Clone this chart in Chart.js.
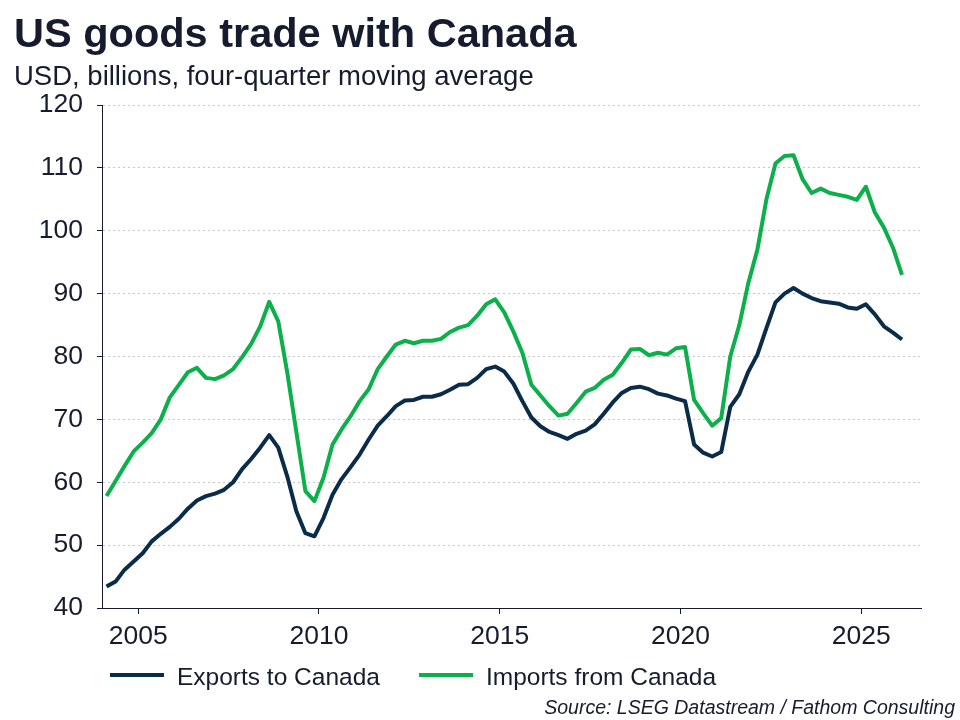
<!DOCTYPE html>
<html>
<head>
<meta charset="utf-8">
<title>US goods trade with Canada</title>
<script src="https://cdn.jsdelivr.net/npm/chart.js@4.4.1/dist/chart.umd.min.js"></script>
<style>
  body { margin: 0; background: #fff; }
  #wrap { position: relative; width: 960px; height: 720px; font-family: "Liberation Sans", Arial, sans-serif; color: #161b2e; }
  #chart { position: absolute; left: 0; top: 0; }
  .title { position: absolute; left: 14px; top: 12px; font-size: 41.5px; line-height: 41px; font-weight: bold; white-space: nowrap; }
  .sub { position: absolute; left: 14px; top: 62px; font-size: 27.5px; line-height: 28px; white-space: nowrap; }
  #legend { position: absolute; left: 110px; top: 665px; display: flex; align-items: center; font-size: 24.5px; line-height: 24px; }
  #legend .item { display: flex; align-items: center; margin-right: 39px; }
  #legend .swatch { width: 54px; height: 4px; margin-right: 13px; position: relative; top: -2px; }
  .source { position: absolute; right: 5px; top: 697px; font-size: 19.5px; line-height: 20px; font-style: italic; white-space: nowrap; }
</style>
</head>
<body>
<div id="wrap">
  <canvas id="chart" width="960" height="720"></canvas>
  <div class="title">US goods trade with Canada</div>
  <div class="sub">USD, billions, four-quarter moving average</div>
  <div id="legend"></div>
  <div class="source">Source: LSEG Datastream / Fathom Consulting</div>
</div>
<script>
// quarters 2004 Q1 .. 2026 Q1
let quarters = []
for (let yr = 2004; yr <= 2026; yr++) {
  for (let q = 1; q <= 4; q++) quarters.push(yr + ' Q' + q)
}
quarters = quarters.slice(0, quarters.indexOf('2026 Q1') + 1)

// USD bn, four-quarter moving average
const exportsToCanada = [
  43.4, 44.2, 46.1, 47.4,   48.7, 50.6, 51.8, 52.9,   54.2, 55.8, 57.1, 57.8,
  58.2, 58.8, 60.0, 62.1,   63.7, 65.5, 67.5, 65.5,   60.9, 55.4, 51.9, 51.4,
  54.3, 58.0, 60.5, 62.4,   64.4, 66.8, 69.0, 70.5,   72.1, 73.0, 73.1, 73.6,
  73.6, 74.0, 74.7, 75.5,   75.6, 76.6, 78.0, 78.4,   77.6, 75.7, 72.9, 70.3,
  68.9, 68.0, 67.5, 66.9,   67.7, 68.2, 69.2, 70.9,   72.7, 74.2, 75.0, 75.2,
  74.8, 74.1, 73.8, 73.3,   72.9, 66.0, 64.7, 64.1,   64.8, 72.0, 74.0, 77.6,
  80.3, 84.5, 88.6, 90.0,   90.9, 90.0, 89.3, 88.8,   88.6, 88.4, 87.8, 87.6,
  88.3, 86.7, 84.8, 83.8,   82.7
]
const importsFromCanada = [
  57.8, 60.2, 62.6, 64.9,   66.3, 67.8, 70.0, 73.5,   75.5, 77.5, 78.2, 76.6,
  76.4, 77.0, 78.0, 79.9,   82.0, 84.8, 88.7, 85.6,   77.4, 68.0, 58.6, 57.0,
  60.7, 66.0, 68.4, 70.5,   72.9, 74.8, 78.0, 80.0,   81.9, 82.5, 82.1, 82.5,
  82.5, 82.8, 83.9, 84.6,   85.0, 86.5, 88.3, 89.1,   87.0, 84.0, 80.6, 75.5,
  73.8, 72.1, 70.6, 70.9,   72.6, 74.4, 75.0, 76.3,   77.1, 79.0, 81.1, 81.2,
  80.2, 80.6, 80.3, 81.3,   81.5, 73.1, 71.0, 69.0,   70.2, 80.0, 85.0, 91.7,
  97.0, 105.0, 110.7, 111.9, 112.0, 108.2, 106.0, 106.7, 106.0, 105.7, 105.4, 104.9,
  107.0, 102.9, 100.5, 97.3, 93.0
]

const yearTicks = [2005, 2010, 2015, 2020, 2025]
const valueTicks = [40, 50, 60, 70, 80, 90, 100, 110, 120]

const ink = '#161b2e'
const font = "'Liberation Sans', Arial, sans-serif"

// place each quarter in the middle of its span on a year axis
const quarterTimes = quarters.map(function (s) {
  const parts = s.split(' Q')
  return +parts[0] + (parts[1] - 1) / 4 + 0.125
})

const chart = new Chart(document.getElementById('chart'), {
  type: 'line',
  data: {
    labels: quarterTimes,
    datasets: [
      { label: 'Exports to Canada', data: exportsToCanada, borderColor: '#0b2c48', backgroundColor: '#0b2c48' },
      { label: 'Imports from Canada', data: importsFromCanada, borderColor: '#0cb04a', backgroundColor: '#0cb04a' }
    ]
  },
  options: {
    responsive: false,
    animation: false,
    layout: { padding: { left: 0, right: 39, top: 105, bottom: 72 } },
    plugins: { legend: { display: false }, tooltip: { enabled: false } },
    elements: {
      point: { radius: 0 },
      line: { tension: 0, borderWidth: 4, borderJoinStyle: 'round' }
    },
    scales: {
      x: {
        type: 'linear',
        min: 2004,
        max: 2026.65,
        afterBuildTicks: function (s) { s.ticks = yearTicks.map(function (v) { return { value: v } }) },
        afterFit: function (s) { s.height = 40 },
        grid: { drawOnChartArea: false, tickLength: 6, tickColor: ink, tickWidth: 1 },
        border: { color: ink, width: 1 },
        ticks: { color: ink, font: { family: font, size: 26.5 }, padding: 7, maxRotation: 0, autoSkip: false,
          callback: function (v) { return String(v) } }
      },
      y: {
        min: 40,
        max: 120,
        afterBuildTicks: function (s) { s.ticks = valueTicks.map(function (v) { return { value: v } }) },
        afterFit: function (s) { s.width = 102 },
        grid: {
          color: function (c) { return c.tick && c.tick.value === 40 ? 'rgba(0,0,0,0)' : '#c6c6c6' },
          lineWidth: 1, tickLength: 5, tickColor: ink, tickWidth: 1, tickBorderDash: []
        },
        border: { color: ink, width: 1, dash: [2, 3] },
        ticks: { color: ink, font: { family: font, size: 26.5 }, padding: 14 }
      }
    }
  }
})

// legend built from the chart's datasets
let legendEl = document.getElementById('legend')
chart.data.datasets.forEach(function (ds) {
  let item = document.createElement('div')
  item.className = 'item'
  item.innerHTML = '<span class="swatch" style="background:' + ds.borderColor + '"></span><span>' + ds.label + '</span>'
  legendEl.appendChild(item)
})
</script>
</body>
</html>
